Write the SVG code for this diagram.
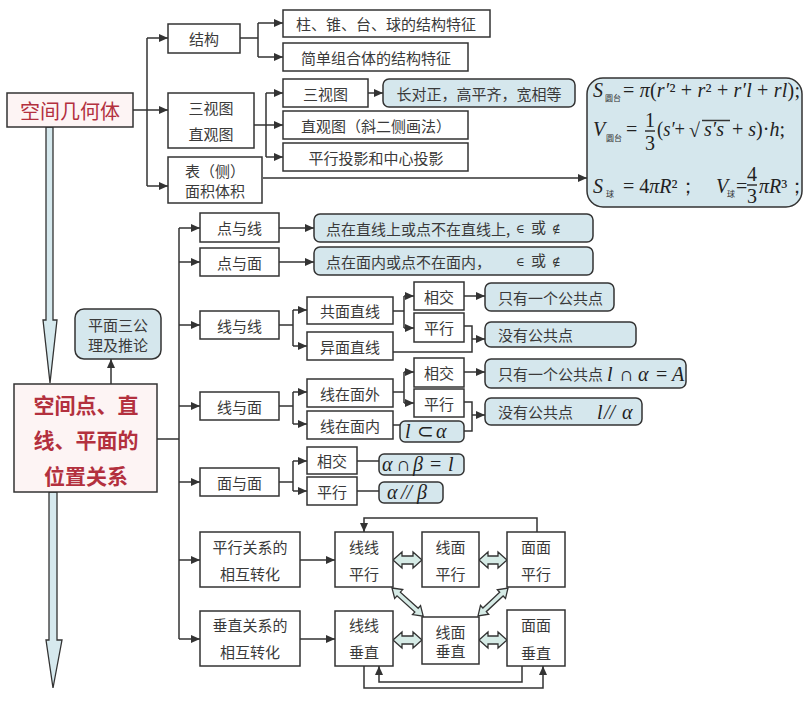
<svg xmlns="http://www.w3.org/2000/svg" width="809" height="704" viewBox="0 0 809 704">
<style>
.box{fill:#fff;stroke:#333;stroke-width:1.5}
.pink{fill:#fdf4f4;stroke:#333;stroke-width:1.5}
.rb{fill:#d5e7ed;stroke:#333;stroke-width:1.5}
.t{font-family:"Noto Sans CJK SC","Noto Sans",sans-serif;font-size:15px;fill:#3a3a3a;text-anchor:middle;dominant-baseline:central}
.tl{font-family:"Noto Sans CJK SC","Noto Sans",sans-serif;font-size:15px;fill:#3a3a3a;dominant-baseline:central}
.red{font-family:"Noto Sans CJK SC",sans-serif;fill:#b3303e;text-anchor:middle;dominant-baseline:central}
.m{font-family:"Liberation Serif",serif;font-style:italic;font-size:20px;fill:#222}
.mn{font-family:"Liberation Serif",serif;font-size:20px;fill:#222}
.sym{font-family:"DejaVu Serif",serif;font-size:12px;fill:#333}
.sub{font-family:"Noto Sans CJK SC",sans-serif;font-size:8px;fill:#333}
.ln{fill:none;stroke:#333;stroke-width:1.5}
.ar{fill:none;stroke:#333;stroke-width:1.5;marker-end:url(#ah)}
.ha{fill:#d6ebe6;stroke:#333;stroke-width:1.3}
.va{fill:#d6e9ee;stroke:#333;stroke-width:1.3}
</style>
<defs>
<marker id="ah" markerWidth="9" markerHeight="8" refX="9" refY="4" orient="auto" markerUnits="userSpaceOnUse"><path d="M0,0 L9,4 L0,8 Z" fill="#333"/></marker>
</defs>
<rect width="809" height="704" fill="#fff"/>

<g id="bigArrows">
<path class="va" d="M46,127 L53,127 L53,320 L57,320 L50,383 L43,320 L46,320 Z"/>
<path class="va" d="M49,492 L57,492 L57,640 L62,640 L53,688 L46,640 L49,640 Z"/>
</g>

<g id="connectors">
<path class="ln" d="M133,110 H147 M147,38 V186"/>
<path class="ar" d="M147,38 H168"/>
<path class="ar" d="M147,110 H168"/>
<path class="ar" d="M147,186 H168"/>
<path class="ln" d="M240,38 H258 M258,23 V57"/>
<path class="ar" d="M258,23 H283"/>
<path class="ar" d="M258,57 H283"/>
<path class="ln" d="M254,125 H266 M266,93 V157"/>
<path class="ar" d="M266,93 H283"/>
<path class="ar" d="M266,125 H283"/>
<path class="ar" d="M266,157 H283"/>
<path class="ar" d="M368,93 H383"/>
<path class="ar" d="M263,178 H587"/>
<path class="ar" d="M111,384 V359"/>
<path class="ln" d="M157,439 H179 M179,228 V639"/>
<path class="ar" d="M179,228 H200"/>
<path class="ar" d="M179,262 H200"/>
<path class="ar" d="M179,325 H200"/>
<path class="ar" d="M179,406 H200"/>
<path class="ar" d="M179,482 H200"/>
<path class="ar" d="M179,560 H200"/>
<path class="ar" d="M179,639 H200"/>
<path class="ar" d="M279,228 H314"/>
<path class="ar" d="M279,262 H314"/>
<path class="ln" d="M279,325 H293 M293,310 V346"/>
<path class="ar" d="M293,310 H307"/>
<path class="ar" d="M293,346 H307"/>
<path class="ln" d="M393,311 H404 M404,296 V328"/>
<path class="ar" d="M404,296 H414"/>
<path class="ar" d="M404,328 H414"/>
<path class="ar" d="M464,296 H485"/>
<path class="ln" d="M464,326 H472 V352 H393"/>
<path class="ar" d="M472,339 H485"/>
<path class="ln" d="M279,406 H293 M293,392 V424"/>
<path class="ar" d="M293,392 H307"/>
<path class="ar" d="M293,424 H307"/>
<path class="ln" d="M393,392 H404 M404,372 V403"/>
<path class="ar" d="M404,372 H414"/>
<path class="ar" d="M404,403 H414"/>
<path class="ar" d="M464,372 H485"/>
<path class="ln" d="M393,425 H400"/>
<path class="ln" d="M464,402 H472 V431 H464"/>
<path class="ar" d="M472,415 H485"/>
<path class="ln" d="M279,482 H293 M293,461 V491"/>
<path class="ar" d="M293,461 H307"/>
<path class="ar" d="M293,491 H307"/>
<path class="ln" d="M357,461 H379 M357,491 H379"/>
<path class="ar" d="M300,560 H335"/>
<path class="ar" d="M300,639 H335"/>
<path class="ar" d="M537,532 V518 H364 V532"/>
<path class="ar" d="M522,666 V682 H379 V666"/>
<path class="ar" d="M364,666 V688 H543 V666"/>
<path class="ha" d="M393,560 L402,552 L402,556 L413,556 L413,552 L422,560 L413,568 L413,564 L402,564 L402,568 Z"/>
<path class="ha" d="M479,560 L488,552 L488,556 L498,556 L498,552 L507,560 L498,568 L498,564 L488,564 L488,568 Z"/>
<path class="ha" d="M393,640 L402,632 L402,636 L413,636 L413,632 L422,640 L413,648 L413,644 L402,644 L402,648 Z"/>
<path class="ha" d="M479,640 L488,632 L488,636 L498,636 L498,632 L507,640 L498,648 L498,644 L488,644 L488,648 Z"/>
<path class="ha" transform="translate(392,588) rotate(42)" d="M0,0 L9,-6 L9,-2.5 L33,-2.5 L33,-6 L42,0 L33,6 L33,2.5 L9,2.5 L9,6 Z"/>
<path class="ha" transform="translate(508,588) rotate(137)" d="M0,0 L9,-6 L9,-2.5 L32,-2.5 L32,-6 L41,0 L32,6 L32,2.5 L9,2.5 L9,6 Z"/>
</g>

<g id="n_kongjianjihe"><rect class="pink" x="7" y="93" width="126" height="34"/><text class="red" x="70" y="110" font-size="20">空间几何体</text></g>
<g id="n_jiegou"><rect class="box" x="168" y="24" width="72" height="29"/><text class="t" x="204" y="38.5">结构</text></g>
<g id="n_sanshitu"><rect class="box" x="168" y="93" width="86" height="55"/><text class="t" x="211" y="107">三视图</text><text class="t" x="211" y="133">直观图</text></g>
<g id="n_mianji"><rect class="box" x="168" y="157" width="94" height="46"/><text class="t" x="215" y="170" font-size="14">表（侧）</text><text class="t" x="215" y="190" font-size="14">面积体积</text></g>
<g id="n_zhu"><rect class="box" x="283" y="10" width="207" height="27"/><text class="t" x="386" y="23.5">柱、锥、台、球的结构特征</text></g>
<g id="n_jiandan"><rect class="box" x="283" y="43" width="185" height="28"/><text class="t" x="376" y="57">简单组合体的结构特征</text></g>
<g id="n_sst"><rect class="box" x="283" y="79" width="85" height="28"/><text class="t" x="325.5" y="93">三视图</text></g>
<g id="n_changdui"><rect class="rb" x="383" y="79" width="192" height="28" rx="6"/><text class="t" x="479" y="93">长对正，高平齐，宽相等</text></g>
<g id="n_zhiguan"><rect class="box" x="283" y="111" width="185" height="28"/><text class="t" x="376" y="125">直观图（斜二侧画法）</text></g>
<g id="n_pingxing"><rect class="box" x="283" y="143" width="185" height="28"/><text class="t" x="376" y="157">平行投影和中心投影</text></g>
<g id="n_formula">
<rect class="rb" x="587" y="78" width="215" height="129" rx="16"/>
<text class="m" x="593" y="97">S</text><text class="sub" x="605" y="101">圆台</text>
<text class="mn" x="623" y="97" textLength="177" lengthAdjust="spacing">= <tspan font-style="italic">π</tspan>(<tspan font-style="italic">r′</tspan>² + <tspan font-style="italic">r</tspan>² + <tspan font-style="italic">r′l</tspan> + <tspan font-style="italic">rl</tspan>);</text>
<text class="m" x="593" y="136">V</text><text class="sub" x="606" y="141">圆台</text>
<text class="mn" x="626" y="136">=</text>
<text class="mn" x="650" y="127" text-anchor="middle" font-size="17">1</text>
<path class="ln" d="M645,131 H655"/>
<text class="mn" x="650" y="150" text-anchor="middle" font-size="17">3</text>
<text class="mn" x="657" y="136" textLength="28" lengthAdjust="spacingAndGlyphs">(<tspan font-style="italic">s′</tspan>+</text>
<text class="mn" x="689" y="137">√</text>
<path class="ln" d="M702,120.5 H730" stroke-width="1.2"/>
<text class="m" x="704" y="136">s′s</text>
<text class="mn" x="732" y="136">+ <tspan font-style="italic">s</tspan>)·<tspan font-style="italic">h</tspan>;</text>
<text class="m" x="593" y="193">S</text><text class="sub" x="606" y="197">球</text>
<text class="mn" x="623" y="193">= 4<tspan font-style="italic">πR</tspan>²；</text>
<text class="m" x="716" y="193">V</text><text class="sub" x="727" y="197">球</text>
<text class="mn" x="736" y="193">=</text>
<text class="mn" x="752" y="181" text-anchor="middle" font-size="17">4</text>
<path class="ln" d="M747,185 H757"/>
<text class="mn" x="752" y="203" text-anchor="middle" font-size="17">3</text>
<text class="mn" x="759" y="193"><tspan font-style="italic">πR</tspan>³；</text>
</g>

<g id="n_gongli"><rect class="rb" x="75" y="309" width="86" height="50" rx="9"/><text class="t" x="118" y="324" font-size="14">平面三公</text><text class="t" x="118" y="344" font-size="14">理及推论</text></g>
<g id="n_weizhi"><rect class="pink" x="14" y="384" width="143" height="108"/>
<text class="red" x="86" y="404" font-size="21" font-weight="bold">空间点、直</text>
<text class="red" x="86" y="439" font-size="21" font-weight="bold">线、平面的</text>
<text class="red" x="86" y="475" font-size="21" font-weight="bold">位置关系</text></g>
<g id="n_dyx"><rect class="box" x="200" y="213" width="79" height="29"/><text class="t" x="239.5" y="227.5">点与线</text></g>
<g id="n_dym"><rect class="box" x="200" y="248" width="79" height="28"/><text class="t" x="239.5" y="262">点与面</text></g>
<g id="n_xyx"><rect class="box" x="200" y="311" width="79" height="28"/><text class="t" x="239.5" y="325">线与线</text></g>
<g id="n_xym"><rect class="box" x="200" y="392" width="79" height="28"/><text class="t" x="239.5" y="406">线与面</text></g>
<g id="n_mym"><rect class="box" x="200" y="468" width="79" height="28"/><text class="t" x="239.5" y="482">面与面</text></g>
<g id="n_dyx_r"><rect class="rb" x="314" y="214" width="279" height="28" rx="6"/><text class="tl" x="326" y="228">点在直线上或点不在直线上,</text><text class="sym" x="516" y="233">∈</text><text class="tl" x="531" y="226" font-size="19">或</text><text class="sym" x="552" y="233">∉</text></g>
<g id="n_dym_r"><rect class="rb" x="314" y="247" width="279" height="28" rx="6"/><text class="tl" x="326" y="261">点在面内或点不在面内，</text><text class="sym" x="516" y="266">∈</text><text class="tl" x="531" y="259" font-size="19">或</text><text class="sym" x="552" y="266">∉</text></g>
<g id="n_gmzx"><rect class="box" x="307" y="297" width="86" height="27"/><text class="t" x="350" y="310.5">共面直线</text></g>
<g id="n_ymzx"><rect class="box" x="307" y="332" width="86" height="28"/><text class="t" x="350" y="346">异面直线</text></g>
<g id="n_xj1"><rect class="box" x="414" y="282" width="50" height="28"/><text class="t" x="439" y="296">相交</text></g>
<g id="n_px1"><rect class="box" x="414" y="313" width="50" height="29"/><text class="t" x="439" y="327.5">平行</text></g>
<g id="n_yg1"><rect class="rb" x="485" y="283" width="129" height="28" rx="6"/><text class="tl" x="498" y="297">只有一个公共点</text></g>
<g id="n_mg1"><rect class="rb" x="485" y="322" width="151" height="25" rx="6"/><text class="tl" x="498" y="334.5">没有公共点</text></g>
<g id="n_xzmw"><rect class="box" x="307" y="379" width="86" height="28"/><text class="t" x="350" y="393">线在面外</text></g>
<g id="n_xzmn"><rect class="box" x="307" y="411" width="86" height="28"/><text class="t" x="350" y="425">线在面内</text></g>
<g id="n_xj2"><rect class="box" x="414" y="358" width="50" height="29"/><text class="t" x="439" y="372.5">相交</text></g>
<g id="n_px2"><rect class="box" x="414" y="389" width="50" height="28"/><text class="t" x="439" y="403">平行</text></g>
<g id="n_yg2"><rect class="rb" x="485" y="359" width="201" height="29" rx="6"/><text class="tl" x="498" y="373.5">只有一个公共点</text>
<text class="m" x="607" y="381">l</text><text class="mn" x="619" y="381">∩</text><text class="m" x="638" y="381">α</text><text class="mn" x="656" y="381">=</text><text class="m" x="672" y="381">A</text></g>
<g id="n_lsub"><rect class="rb" x="400" y="421" width="64" height="21" rx="5"/><text class="m" x="405" y="438">l</text><text class="mn" x="417" y="438">⊂</text><text class="m" x="436" y="438">α</text></g>
<g id="n_mg2"><rect class="rb" x="485" y="398" width="157" height="27" rx="6"/><text class="tl" x="498" y="411.5">没有公共点</text>
<text class="m" x="597" y="419">l</text><text class="m" x="604" y="419">//</text><text class="m" x="622" y="419">α</text></g>
<g id="n_xj3"><rect class="box" x="307" y="447" width="50" height="27"/><text class="t" x="332" y="460.5">相交</text></g>
<g id="n_px3"><rect class="box" x="307" y="477" width="50" height="28"/><text class="t" x="332" y="491">平行</text></g>
<g id="n_ab1"><rect class="rb" x="379" y="454" width="85" height="21" rx="5"/><text class="m" x="382" y="471">α</text><text class="mn" x="396" y="471">∩</text><text class="m" x="413" y="471">β</text><text class="mn" x="430" y="471">=</text><text class="m" x="448" y="471">l</text></g>
<g id="n_ab2"><rect class="rb" x="379" y="482" width="64" height="21" rx="5"/><text class="m" x="387" y="499">α</text><text class="m" x="401" y="499">//</text><text class="m" x="417" y="499">β</text></g>

<g id="n_pxgx"><rect class="box" x="200" y="532" width="100" height="55"/><text class="t" x="250" y="546">平行关系的</text><text class="t" x="250" y="573">相互转化</text></g>
<g id="n_czgx"><rect class="box" x="200" y="611" width="100" height="55"/><text class="t" x="250" y="624">垂直关系的</text><text class="t" x="250" y="651">相互转化</text></g>
<g id="n_xxpx"><rect class="box" x="335" y="532" width="58" height="55"/><text class="t" x="364" y="546">线线</text><text class="t" x="364" y="573">平行</text></g>
<g id="n_xmpx"><rect class="box" x="422" y="532" width="57" height="55"/><text class="t" x="450.5" y="546">线面</text><text class="t" x="450.5" y="573">平行</text></g>
<g id="n_mmpx"><rect class="box" x="507" y="532" width="58" height="55"/><text class="t" x="536" y="546">面面</text><text class="t" x="536" y="573">平行</text></g>
<g id="n_xxcz"><rect class="box" x="335" y="611" width="58" height="55"/><text class="t" x="364" y="624">线线</text><text class="t" x="364" y="651">垂直</text></g>
<g id="n_xmcz"><rect class="box" x="422" y="617" width="57" height="47"/><text class="t" x="450.5" y="631">线面</text><text class="t" x="450.5" y="650">垂直</text></g>
<g id="n_mmcz"><rect class="box" x="507" y="610" width="58" height="56"/><text class="t" x="536" y="624">面面</text><text class="t" x="536" y="652">垂直</text></g>
</svg>
